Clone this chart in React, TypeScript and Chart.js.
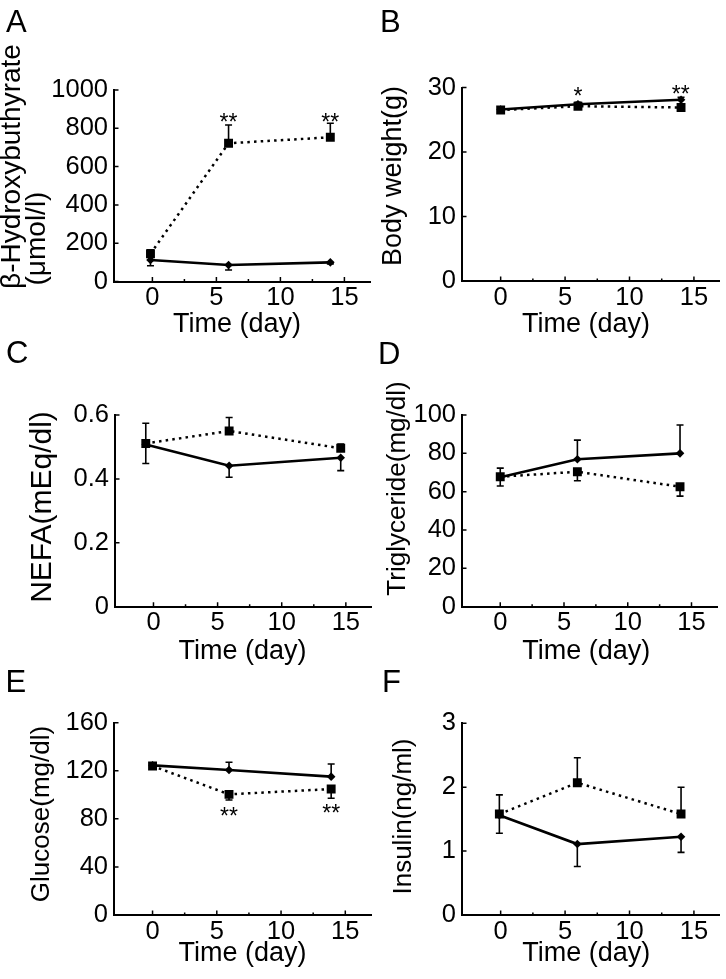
import React, { useEffect, useRef } from 'react';
import { Chart, registerables } from 'chart.js';
Chart.register(...registerables);

const FONT = "'Liberation Sans', Arial, Helvetica, sans-serif";

// ---------- shared axis values ----------
const xTicks = [0, 5, 10, 15];
const xMinorTicks = [2.5, 7.5, 12.5];
const xTitle = 'Time (day)';

// ---------- Panel A : beta-hydroxybutyrate ----------
const daysA = [-0.15, 5.95, 13.9];
const sqA = [145, 722, 753];
const sqErrA = [20, 95, 73];
const dmA = [112, 86, 100];
const dmErrA = [-30, -26, -8];
const yTicksA = [0, 200, 400, 600, 800, 1000];
const starXA = [5.95, 13.9];
const starYA = [860, 860];
const starTA = ['**', '**'];

// ---------- Panel B : body weight ----------
const daysB = [0, 6, 14];
const sqB = [26.5, 27.1, 26.9];
const sqErrB = [0.3, 0.3, 0.3];
const dmB = [26.6, 27.4, 28.1];
const dmErrB = [-0.3, 0.3, 0.4];
const yTicksB = [0, 10, 20, 30];
const starXB = [6, 13.97];
const starYB = [29.6, 29.9];
const starTB = ['*', '**'];

// ---------- Panel C : NEFA ----------
const daysC = [-0.6, 5.9, 14.6];
const sqC = [0.511, 0.55, 0.496];
const sqErrC = [0.063, 0.042, 0.013];
const dmC = [0.508, 0.441, 0.466];
const dmErrC = [-0.06, -0.036, -0.04];
const yTicksC = [0, 0.2, 0.4, 0.6];

// ---------- Panel D : triglyceride ----------
const daysD = [0, 6.05, 14.1];
const sqD = [67.8, 70.4, 62.6];
const sqErrD = [4.5, -4.7, -4.9];
const dmD = [67.5, 76.9, 80.0];
const dmErrD = [-4.5, 10, 14.8];
const yTicksD = [0, 20, 40, 60, 80, 100];

// ---------- Panel E : glucose ----------
const daysE = [0, 5.95, 13.9];
const sqE = [124, 100.4, 104.8];
const sqErrE = [-2, -4.7, -7.7];
const dmE = [124.5, 120.6, 115.1];
const dmErrE = [2, 6.5, 10.5];
const yTicksE = [0, 40, 80, 120, 160];
const starXE = [5.95, 13.9];
const starYE = [86.8, 89.6];
const starTE = ['**', '**'];

// ---------- Panel F : insulin ----------
const daysF = [-0.1, 5.95, 14];
const sqF = [1.58, 2.07, 1.58];
const sqErrF = [0.3, 0.39, 0.42];
const dmF = [1.56, 1.11, 1.225];
const dmErrF = [-0.28, -0.35, -0.245];
const yTicksF = [0, 1, 2, 3];

type Rect = { x: number; y: number; w: number; h: number };
type Area = { l: number; t: number; r: number; b: number };
type YT = { text: string; cx: number; cy: number; size: number };
type Panel = {
  letter: string;
  canvas: Rect;
  area: Area;
  letterPos: { x: number; y: number };
  yTitle: YT[];
  xTitlePos: { cx: number; cy: number };
  days: number[];
  sq: number[];
  sqErr: number[];
  dm: number[];
  dmErr: number[];
  yTicks: number[];
  starX: number[];
  starY: number[];
  starT: string[];
};

const panels: Panel[] = [
  {
    letter: 'A',
    canvas: { x: 0, y: 0, w: 380, h: 345 },
    area: { l: 114, t: 90, r: 370, b: 281.5 },
    letterPos: { x: 6, y: 32 },
    yTitle: [
      { text: 'β-Hydroxybuthyrate', cx: 12, cy: 166.5, size: 28 },
      { text: '(μmol/l)', cx: 37, cy: 238.5, size: 28 },
    ],
    xTitlePos: { cx: 237, cy: 325 },
    days: daysA, sq: sqA, sqErr: sqErrA, dm: dmA, dmErr: dmErrA,
    yTicks: yTicksA, starX: starXA, starY: starYA, starT: starTA,
  },
  {
    letter: 'B',
    canvas: { x: 372, y: 0, w: 354, h: 345 },
    area: { l: 462, t: 87.5, r: 720.5, b: 281 },
    letterPos: { x: 380, y: 32 },
    yTitle: [{ text: 'Body weight(g)', cx: 393.5, cy: 176, size: 27 }],
    xTitlePos: { cx: 586, cy: 325 },
    days: daysB, sq: sqB, sqErr: sqErrB, dm: dmB, dmErr: dmErrB,
    yTicks: yTicksB, starX: starXB, starY: starYB, starT: starTB,
  },
  {
    letter: 'C',
    canvas: { x: 0, y: 330, w: 380, h: 340 },
    area: { l: 115, t: 415, r: 371.5, b: 606.7 },
    letterPos: { x: 6, y: 363 },
    yTitle: [{ text: 'NEFA(mEq/dl)', cx: 42.5, cy: 507, size: 30 }],
    xTitlePos: { cx: 242.5, cy: 651.5 },
    days: daysC, sq: sqC, sqErr: sqErrC, dm: dmC, dmErr: dmErrC,
    yTicks: yTicksC, starX: [], starY: [], starT: [],
  },
  {
    letter: 'D',
    canvas: { x: 372, y: 330, w: 354, h: 340 },
    area: { l: 462, t: 415, r: 717, b: 606.7 },
    letterPos: { x: 378, y: 364 },
    yTitle: [{ text: 'Triglyceride(mg/dl)', cx: 397.5, cy: 488.5, size: 26 }],
    xTitlePos: { cx: 586.3, cy: 651.5 },
    days: daysD, sq: sqD, sqErr: sqErrD, dm: dmD, dmErr: dmErrD,
    yTicks: yTicksD, starX: [], starY: [], starT: [],
  },
  {
    letter: 'E',
    canvas: { x: 0, y: 645, w: 380, h: 334 },
    area: { l: 114, t: 722.7, r: 371, b: 915 },
    letterPos: { x: 5.5, y: 691.7 },
    yTitle: [{ text: 'Glucose(mg/dl)', cx: 42, cy: 814, size: 26 }],
    xTitlePos: { cx: 242.5, cy: 954 },
    days: daysE, sq: sqE, sqErr: sqErrE, dm: dmE, dmErr: dmErrE,
    yTicks: yTicksE, starX: starXE, starY: starYE, starT: starTE,
  },
  {
    letter: 'F',
    canvas: { x: 372, y: 645, w: 354, h: 334 },
    area: { l: 462, t: 723.3, r: 720.5, b: 915 },
    letterPos: { x: 382, y: 691.7 },
    yTitle: [{ text: 'Insulin(ng/ml)', cx: 403.5, cy: 816.5, size: 26 }],
    xTitlePos: { cx: 586.3, cy: 954 },
    days: daysF, sq: sqF, sqErr: sqErrF, dm: dmF, dmErr: dmErrF,
    yTicks: yTicksF, starX: [], starY: [], starT: [],
  },
];

function makeDecor(p: Panel) {
  return {
    id: 'decor' + p.letter,
    beforeDatasetsDraw(chart: any) {
      const { ctx } = chart;
      const x = chart.scales.x;
      const y = chart.scales.y;
      ctx.save();
      ctx.strokeStyle = '#000';
      ctx.lineWidth = 1.6;
      const series: [number[], number[]][] = [
        [p.sq, p.sqErr],
        [p.dm, p.dmErr],
      ];
      for (const [vals, errs] of series) {
        vals.forEach((v, i) => {
          const e = errs[i];
          if (!e) return;
          const px = x.getPixelForValue(p.days[i]);
          const y0 = y.getPixelForValue(v);
          const y1 = y.getPixelForValue(v + e);
          ctx.beginPath();
          ctx.moveTo(px, y0);
          ctx.lineTo(px, y1);
          ctx.moveTo(px - 3.5, y1);
          ctx.lineTo(px + 3.5, y1);
          ctx.stroke();
        });
      }
      ctx.restore();
    },
    afterDraw(chart: any) {
      const { ctx, chartArea: a } = chart;
      const x = chart.scales.x;
      const y = chart.scales.y;
      const ox = p.canvas.x;
      const oy = p.canvas.y;
      ctx.save();
      // inward tick marks
      ctx.strokeStyle = '#000';
      ctx.lineWidth = 1.5;
      ctx.beginPath();
      x.ticks.forEach((t: any) => {
        const px = x.getPixelForValue(t.value);
        ctx.moveTo(px, a.bottom);
        ctx.lineTo(px, a.bottom - 4.5);
      });
      xMinorTicks.forEach((v) => {
        const px = x.getPixelForValue(v);
        ctx.moveTo(px, a.bottom);
        ctx.lineTo(px, a.bottom - 2.5);
      });
      y.ticks.forEach((t: any) => {
        const py = y.getPixelForValue(t.value);
        ctx.moveTo(a.left, py);
        ctx.lineTo(a.left + 4.5, py);
      });
      ctx.stroke();

      ctx.fillStyle = '#000';
      // significance stars
      const starSize = 23;
      ctx.font = `${starSize}px ${FONT}`;
      ctx.textAlign = 'center';
      ctx.textBaseline = 'alphabetic';
      p.starX.forEach((sx, i) => {
        const px = x.getPixelForValue(sx);
        const py = y.getPixelForValue(p.starY[i]);
        ctx.fillText(p.starT[i], px, py + 0.585 * starSize);
      });

      // panel letter
      ctx.font = `31px ${FONT}`;
      ctx.textAlign = 'left';
      ctx.textBaseline = 'alphabetic';
      ctx.fillText(p.letter, p.letterPos.x - ox, p.letterPos.y - oy);

      // x title
      ctx.font = `27px ${FONT}`;
      ctx.textAlign = 'center';
      ctx.textBaseline = 'middle';
      ctx.fillText(xTitle, p.xTitlePos.cx - ox, p.xTitlePos.cy - oy);

      // y title lines (rotated)
      p.yTitle.forEach((t) => {
        ctx.save();
        ctx.translate(t.cx - ox, t.cy - oy);
        ctx.rotate(-Math.PI / 2);
        ctx.font = `${t.size}px ${FONT}`;
        ctx.textAlign = 'center';
        ctx.textBaseline = 'middle';
        ctx.fillText(t.text, 0, 0);
        ctx.restore();
      });
      ctx.restore();
    },
  };
}

function buildConfig(p: Panel): any {
  const sqData = p.days.map((d, i) => ({ x: d, y: p.sq[i] }));
  const dmData = p.days.map((d, i) => ({ x: d, y: p.dm[i] }));
  const yMax = p.yTicks[p.yTicks.length - 1];
  const fmt = (v: any) => String(Number(Number(v).toFixed(3)));
  return {
    type: 'line',
    data: {
      datasets: [
        {
          data: sqData,
          borderColor: '#000',
          borderWidth: 2.5,
          borderDash: [2.5, 4.2],
          borderCapStyle: 'butt',
          pointStyle: 'rect',
          pointRadius: 6.3,
          pointBackgroundColor: '#000',
          pointBorderColor: '#000',
          pointBorderWidth: 0,
          tension: 0,
          fill: false,
        },
        {
          data: dmData,
          borderColor: '#000',
          borderWidth: 2.6,
          pointStyle: 'rectRot',
          pointRadius: 4.3,
          pointBackgroundColor: '#000',
          pointBorderColor: '#000',
          pointBorderWidth: 0,
          tension: 0,
          fill: false,
        },
      ],
    },
    options: {
      responsive: false,
      animation: false,
      events: [],
      devicePixelRatio: 1,
      layout: {
        padding: {
          left: 0,
          top: p.area.t - p.canvas.y,
          right: p.canvas.x + p.canvas.w - p.area.r,
          bottom: 0,
        },
      },
      plugins: {
        legend: { display: false },
        tooltip: { enabled: false },
        title: { display: false },
      },
      scales: {
        x: {
          type: 'linear',
          min: -3,
          max: 17,
          grid: { display: false, drawTicks: false },
          border: { display: true, color: '#000', width: 2 },
          afterBuildTicks: (s: any) => {
            s.ticks = xTicks.map((v) => ({ value: v }));
          },
          afterFit: (s: any) => {
            s.height = p.canvas.y + p.canvas.h - p.area.b;
          },
          ticks: {
            color: '#000',
            font: { family: FONT, size: 25.5, lineHeight: 1 },
            padding: 4,
            maxRotation: 0,
            autoSkip: false,
            callback: fmt,
          },
        },
        y: {
          type: 'linear',
          min: 0,
          max: yMax,
          grid: { display: false, drawTicks: false },
          border: { display: true, color: '#000', width: 2 },
          afterBuildTicks: (s: any) => {
            s.ticks = p.yTicks.map((v) => ({ value: v }));
          },
          afterFit: (s: any) => {
            s.width = p.area.l - p.canvas.x;
          },
          ticks: {
            color: '#000',
            font: { family: FONT, size: 25.5, lineHeight: 1 },
            padding: 6,
            autoSkip: false,
            callback: fmt,
          },
        },
      },
    },
    plugins: [makeDecor(p)],
  };
}

function PanelChart({ p }: { p: Panel }) {
  const ref = useRef<HTMLCanvasElement | null>(null);
  useEffect(() => {
    if (!ref.current) return;
    const chart = new Chart(ref.current, buildConfig(p));
    return () => chart.destroy();
  }, [p]);
  return (
    <canvas
      ref={ref}
      width={p.canvas.w}
      height={p.canvas.h}
      style={{
        position: 'absolute',
        left: p.canvas.x,
        top: p.canvas.y,
        width: p.canvas.w,
        height: p.canvas.h,
      }}
    />
  );
}

export default function App() {
  return (
    <div
      style={{
        position: 'absolute',
        left: 0,
        top: 0,
        width: 726,
        height: 979,
        background: '#fff',
        overflow: 'hidden',
      }}
    >
      {panels.map((p) => (
        <PanelChart key={p.letter} p={p} />
      ))}
    </div>
  );
}
